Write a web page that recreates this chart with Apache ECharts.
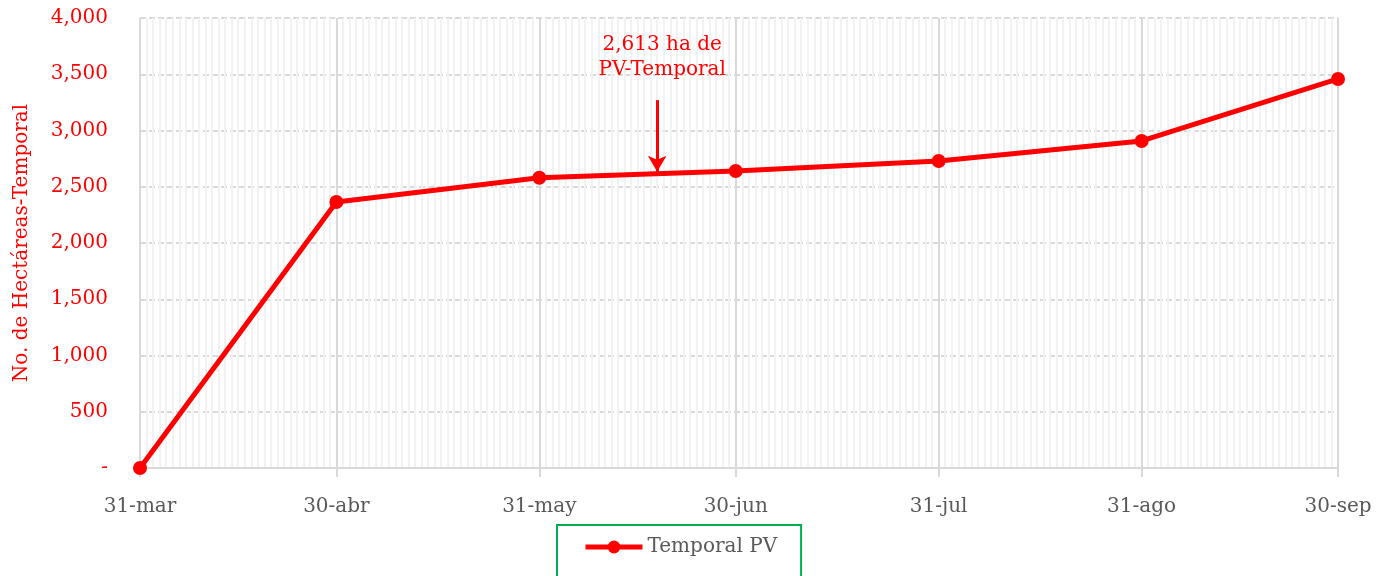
<!DOCTYPE html>
<html>
<head>
<meta charset="utf-8">
<script src="https://cdn.jsdelivr.net/npm/echarts@6/dist/echarts.min.js"></script>
<style>
  html, body { margin: 0; padding: 0; background: #fff; }
  #grafico { width: 1382px; height: 576px; }
</style>
</head>
<body>
<div id="grafico"></div>
<script>
// cortes de fin de mes
const fechas = ['31-mar', '30-abr', '31-may', '30-jun', '31-jul', '31-ago', '30-sep']
const hectareas = [0, 2364, 2580, 2640, 2729, 2907, 3458]
const nombreSerie = 'Temporal PV'
const nota = { fecha: '18-jun', valor: 2613, texto: '2,613 ha de\nPV-Temporal' }

const meses = ['ene', 'feb', 'mar', 'abr', 'may', 'jun', 'jul', 'ago', 'sep', 'oct', 'nov', 'dic']
// un dia por categoria, del 31-mar al 30-sep
const dias = []
const d = new Date(2021, 2, 31)
const fin = new Date(2021, 8, 30)
while (d <= fin) {
    dias.push(`${d.getDate()}-${meses[d.getMonth()]}`)
    d.setDate(d.getDate() + 1)
}
const esCorte = (i, nombre) => fechas.includes(nombre)

const rojo = '#ff0000'
const fuente = '"DejaVu Serif", serif'
const tam = 20

const chart = echarts.init(document.getElementById('grafico'), null, { renderer: 'canvas' })

const option = {
    animation: false,
    textStyle: { fontFamily: fuente },
    grid: { left: 140, right: 44, top: 18, bottom: 108, outerBoundsMode: 'none' },
    xAxis: [{
        type: 'category',
        data: dias,
        boundaryGap: false,
        axisLine: { lineStyle: { color: '#d9d9d9', width: 2 } },
        axisTick: { show: true, interval: esCorte, length: 9, lineStyle: { color: '#d9d9d9', width: 2 } },
        axisLabel: { interval: esCorte, color: '#595959', fontSize: tam, margin: 29, fontFamily: fuente },
        splitLine: { show: true, interval: esCorte, lineStyle: { color: '#d9d9d9', width: 2 } },
        z: 2
    }, {
        type: 'category',
        data: dias,
        boundaryGap: false,
        position: 'bottom',
        axisLine: { show: false },
        axisTick: { show: false },
        axisLabel: { show: false },
        splitLine: { show: true, interval: 0, lineStyle: { color: '#f2f2f2', width: 2 } }
    }],
    yAxis: {
        type: 'value',
        min: 0,
        max: 4000,
        interval: 500,
        name: 'No. de Hectáreas-Temporal',
        nameLocation: 'middle',
        nameGap: 108,
        nameRotate: 90,
        nameTextStyle: { color: rojo, fontSize: tam, fontFamily: fuente },
        axisLine: { show: false },
        axisTick: { show: false },
        axisLabel: {
            color: rojo,
            fontSize: tam,
            margin: 32,
            fontFamily: fuente,
            formatter: v => v === 0 ? '-' : v.toLocaleString('en-US')
        },
        splitLine: { lineStyle: { color: '#d9d9d9', width: 2, type: [6, 3] } }
    },
    legend: {
        data: [nombreSerie],
        left: 557,
        top: 525,
        itemWidth: 57,
        itemHeight: 16,
        itemGap: 0,
        padding: [12, 24, 40, 26],
        borderColor: '#00b050',
        borderWidth: 2,
        lineStyle: { width: 5 },
        textStyle: { color: '#595959', fontSize: tam, fontFamily: fuente }
    },
    series: [{
        name: nombreSerie,
        type: 'line',
        data: fechas.map((f, i) => [f, hectareas[i]]),
        symbol: 'circle',
        symbolSize: 14,
        itemStyle: { color: rojo },
        lineStyle: { color: rojo, width: 5 },
        z: 5,
        markLine: {
            silent: true,
            symbol: ['none', 'arrow'],
            symbolSize: [14, 16],
            lineStyle: { color: rojo, width: 3, type: 'solid' },
            label: { show: false },
            data: [[
                { coord: [nota.fecha, 3270] },
                { coord: [nota.fecha, nota.valor + 20] }
            ]]
        },
        markPoint: {
            silent: true,
            symbolSize: 0,
            label: {
                show: true,
                formatter: nota.texto,
                color: rojo,
                fontSize: tam,
                lineHeight: 25,
                fontFamily: fuente,
                position: 'inside',
                offset: [5, 0]
            },
            data: [{ coord: [nota.fecha, 3650] }]
        }
    }]
}

chart.setOption(option)
</script>
</body>
</html>
